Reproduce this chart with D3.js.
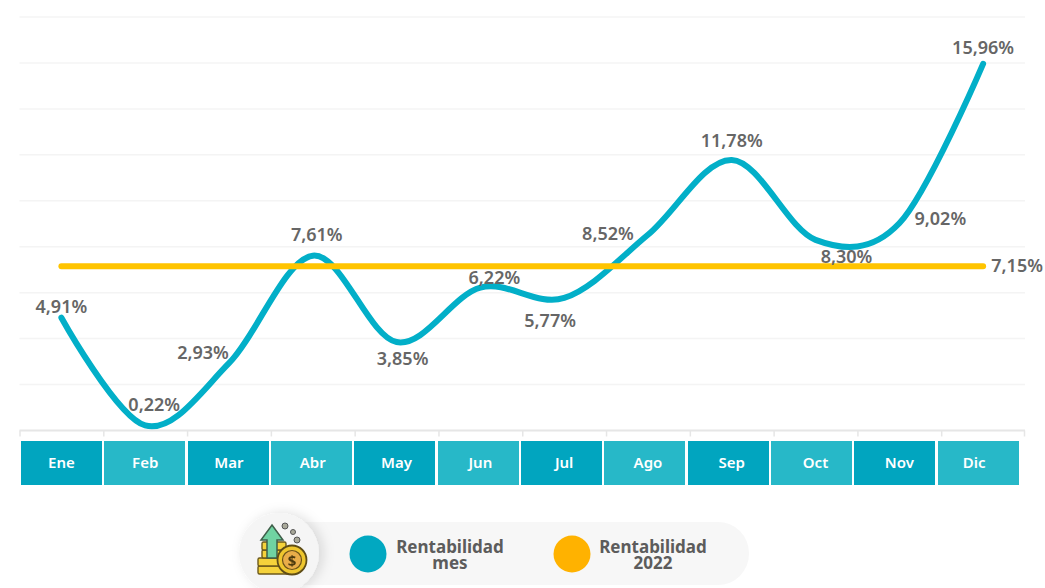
<!DOCTYPE html>
<html>
<head>
<meta charset="utf-8">
<script src="https://cdn.jsdelivr.net/npm/d3@7"></script>
<style>
    html, body { margin: 0; padding: 0; background: #fff; overflow: hidden; }
    text { font-family: "Noto Sans", sans-serif; }
    .val { font-size: 18px; font-weight: 600; fill: #666; text-anchor: middle; dominant-baseline: central; }
    .legend-text { font-size: 17px; font-weight: 700; fill: #5c5c5c; text-anchor: middle; }
    .month { font-size: 15px; font-weight: 600; fill: #fff; text-anchor: middle; dominant-baseline: central; }
</style>
</head>
<body>
<div id="chart"></div>
<script>
const months = ["Ene", "Feb", "Mar", "Abr", "May", "Jun", "Jul", "Ago", "Sep", "Oct", "Nov", "Dic"];
const rentMes = [4.91, 0.22, 2.93, 7.61, 3.85, 6.22, 5.77, 8.52, 11.78, 8.30, 9.02, 15.96];
const rent2022 = [7.15, 7.15, 7.15, 7.15, 7.15, 7.15, 7.15, 7.15, 7.15, 7.15, 7.15, 7.15];
const yTicks = [0, 2, 4, 6, 8, 10, 12, 14, 16, 18];
const legendNames = [["Rentabilidad", "mes"], ["Rentabilidad", "2022"]];

// hand placed label nudges, same order as months
const labelDx = [0, 9, -26, 4, 6, 14, -14, -40, 0, 31, 41, 0];
const labelDy = [-12, -21, -11, -22, 16, -11, 22, -2, -20, 16, -5, -17];

const width = 1045, height = 588;
const svg = d3.select("#chart").append("svg")
    .attr("width", width)
    .attr("height", height)
    .style("display", "block");

const x = d3.scaleBand().domain(months).range([19.5, 1025]);
// the month boxes sit on a slightly shorter row than the axis
const xBox = d3.scaleBand().domain(months).range([21, 1021]);
const y = d3.scaleLinear().domain([0, 18]).range([430.5, 17]);
const fmt = v => v.toFixed(2).replace(".", ",") + "%";
const cx = m => x(m) + x.bandwidth() / 2;

// grid
svg.append("g").selectAll("line")
    .data(yTicks.slice(1))
    .enter().append("line")
    .attr("x1", 19.5).attr("x2", 1025)
    .attr("y1", d => y(d)).attr("y2", d => y(d))
    .attr("stroke", "#f4f4f4")
    .attr("stroke-width", 1.5);

// x axis, ticks on the band edges
const xAxis = svg.append("g")
    .attr("transform", "translate(0," + y(0) + ")");
xAxis.append("line")
    .attr("x1", 19.5).attr("x2", 1025)
    .attr("stroke", "#e6e6e6").attr("stroke-width", 2);
xAxis.selectAll(".edge")
    .data(months.concat("end"))
    .enter().append("line")
    .attr("class", "edge")
    .attr("x1", d => d === "end" ? 1024.5 : x(d) + 0.5)
    .attr("x2", d => d === "end" ? 1024.5 : x(d) + 0.5)
    .attr("y1", 0).attr("y2", 6)
    .attr("stroke", "#e6e6e6").attr("stroke-width", 1.5);

// month boxes
const box = svg.append("g").selectAll("g")
    .data(months)
    .enter().append("g");
box.append("rect")
    .attr("x", d => Math.round(xBox(d)))
    .attr("y", 441)
    .attr("width", 81)
    .attr("height", 44)
    .attr("fill", (d, i) => i % 2 ? "#27b8c8" : "#01a5bf");
box.append("text")
    .attr("class", "month")
    .attr("x", d => d === "Dic" ? cx(d) - 9 : cx(d))
    .attr("y", 462)
    .text(d => d);

// lines
const line = d3.line()
    .x((d, i) => cx(months[i]))
    .y(d => y(d))
    .curve(d3.curveCatmullRom.alpha(0));

svg.append("path")
    .attr("d", line(rentMes))
    .attr("fill", "none")
    .attr("stroke", "#02afc8")
    .attr("stroke-width", 6)
    .attr("stroke-linecap", "round");

svg.append("path")
    .attr("d", line(rent2022))
    .attr("fill", "none")
    .attr("stroke", "#ffc400")
    .attr("stroke-width", 6)
    .attr("stroke-linecap", "round");

// value labels
svg.append("g").selectAll("text")
    .data(rentMes)
    .enter().append("text")
    .attr("class", "val")
    .attr("x", (d, i) => cx(months[i]) + labelDx[i])
    .attr("y", (d, i) => y(d) + labelDy[i])
    .text(fmt);

svg.append("text")
    .attr("class", "val")
    .attr("x", cx("Dic") + 34)
    .attr("y", y(rent2022[11]) - 1)
    .text(fmt(rent2022[11]));

// legend
const defs = svg.append("defs");
const soft = defs.append("filter").attr("id", "soft")
    .attr("x", "-40%").attr("y", "-40%").attr("width", "180%").attr("height", "180%");
soft.append("feDropShadow")
    .attr("dx", 4).attr("dy", 0).attr("stdDeviation", 6)
    .attr("flood-color", "#000").attr("flood-opacity", 0.13);
defs.append("filter").attr("id", "fuzzy")
    .append("feGaussianBlur").attr("stdDeviation", 0.5);

const legend = svg.append("g");
legend.append("rect")
    .attr("x", 250).attr("y", 522)
    .attr("width", 499).attr("height", 63)
    .attr("rx", 31)
    .attr("fill", "#f7f7f7");
legend.append("circle")
    .attr("cx", 279).attr("cy", 553).attr("r", 40)
    .attr("fill", "#f5f5f5")
    .attr("filter", "url(#soft)");

const legendX = [368, 572];
const legendCol = ["#01a8c1", "#ffb200"];
const legendTextX = [450, 653];
legendNames.forEach(function (name, i) {
    legend.append("circle")
        .attr("cx", legendX[i]).attr("cy", 554).attr("r", 18.5)
        .attr("fill", legendCol[i]);
    const t = legend.append("text").attr("class", "legend-text")
        .attr("y", 553);
    t.append("tspan").attr("x", legendTextX[i]).text(name[0]);
    t.append("tspan").attr("x", legendTextX[i]).attr("dy", 16).text(name[1]);
});

// money icon
const icon = legend.append("g").attr("filter", "url(#fuzzy)");
[0, 1, 2, 3].forEach(function (i) {
    icon.append("rect")
        .attr("x", i > 1 ? 262 : 258).attr("y", 566 - i * 8)
        .attr("width", i > 1 ? 24 : 34).attr("height", 8)
        .attr("rx", 1.5)
        .attr("fill", "#f5d23a").attr("stroke", "#6d5a1c").attr("stroke-width", 1.4);
});
icon.append("path")
    .attr("d", "M272 525 L283 540 L277 540 L277 558 L267 558 L267 540 L261 540 Z")
    .attr("fill", "#6fd3a2").attr("stroke", "#3f5f4a").attr("stroke-width", 1.5);
icon.append("circle")
    .attr("cx", 292).attr("cy", 560).attr("r", 14.5)
    .attr("fill", "#eec62f").attr("stroke", "#5f4d18").attr("stroke-width", 1.8);
icon.append("circle")
    .attr("cx", 292).attr("cy", 560).attr("r", 9.5)
    .attr("fill", "#e9ad4a").attr("stroke", "#6b5219").attr("stroke-width", 1.2);
icon.append("text")
    .attr("x", 292).attr("y", 565.5)
    .attr("text-anchor", "middle")
    .attr("font-size", 15).attr("font-weight", 700)
    .attr("fill", "#4d3a10")
    .text("$");
[[285, 526, 3], [293, 532, 2.5], [297, 540, 3]].forEach(function (c) {
    icon.append("circle")
        .attr("cx", c[0]).attr("cy", c[1]).attr("r", c[2])
        .attr("fill", "#a9a99a").attr("stroke", "#555").attr("stroke-width", 1);
});
</script>
</body>
</html>
